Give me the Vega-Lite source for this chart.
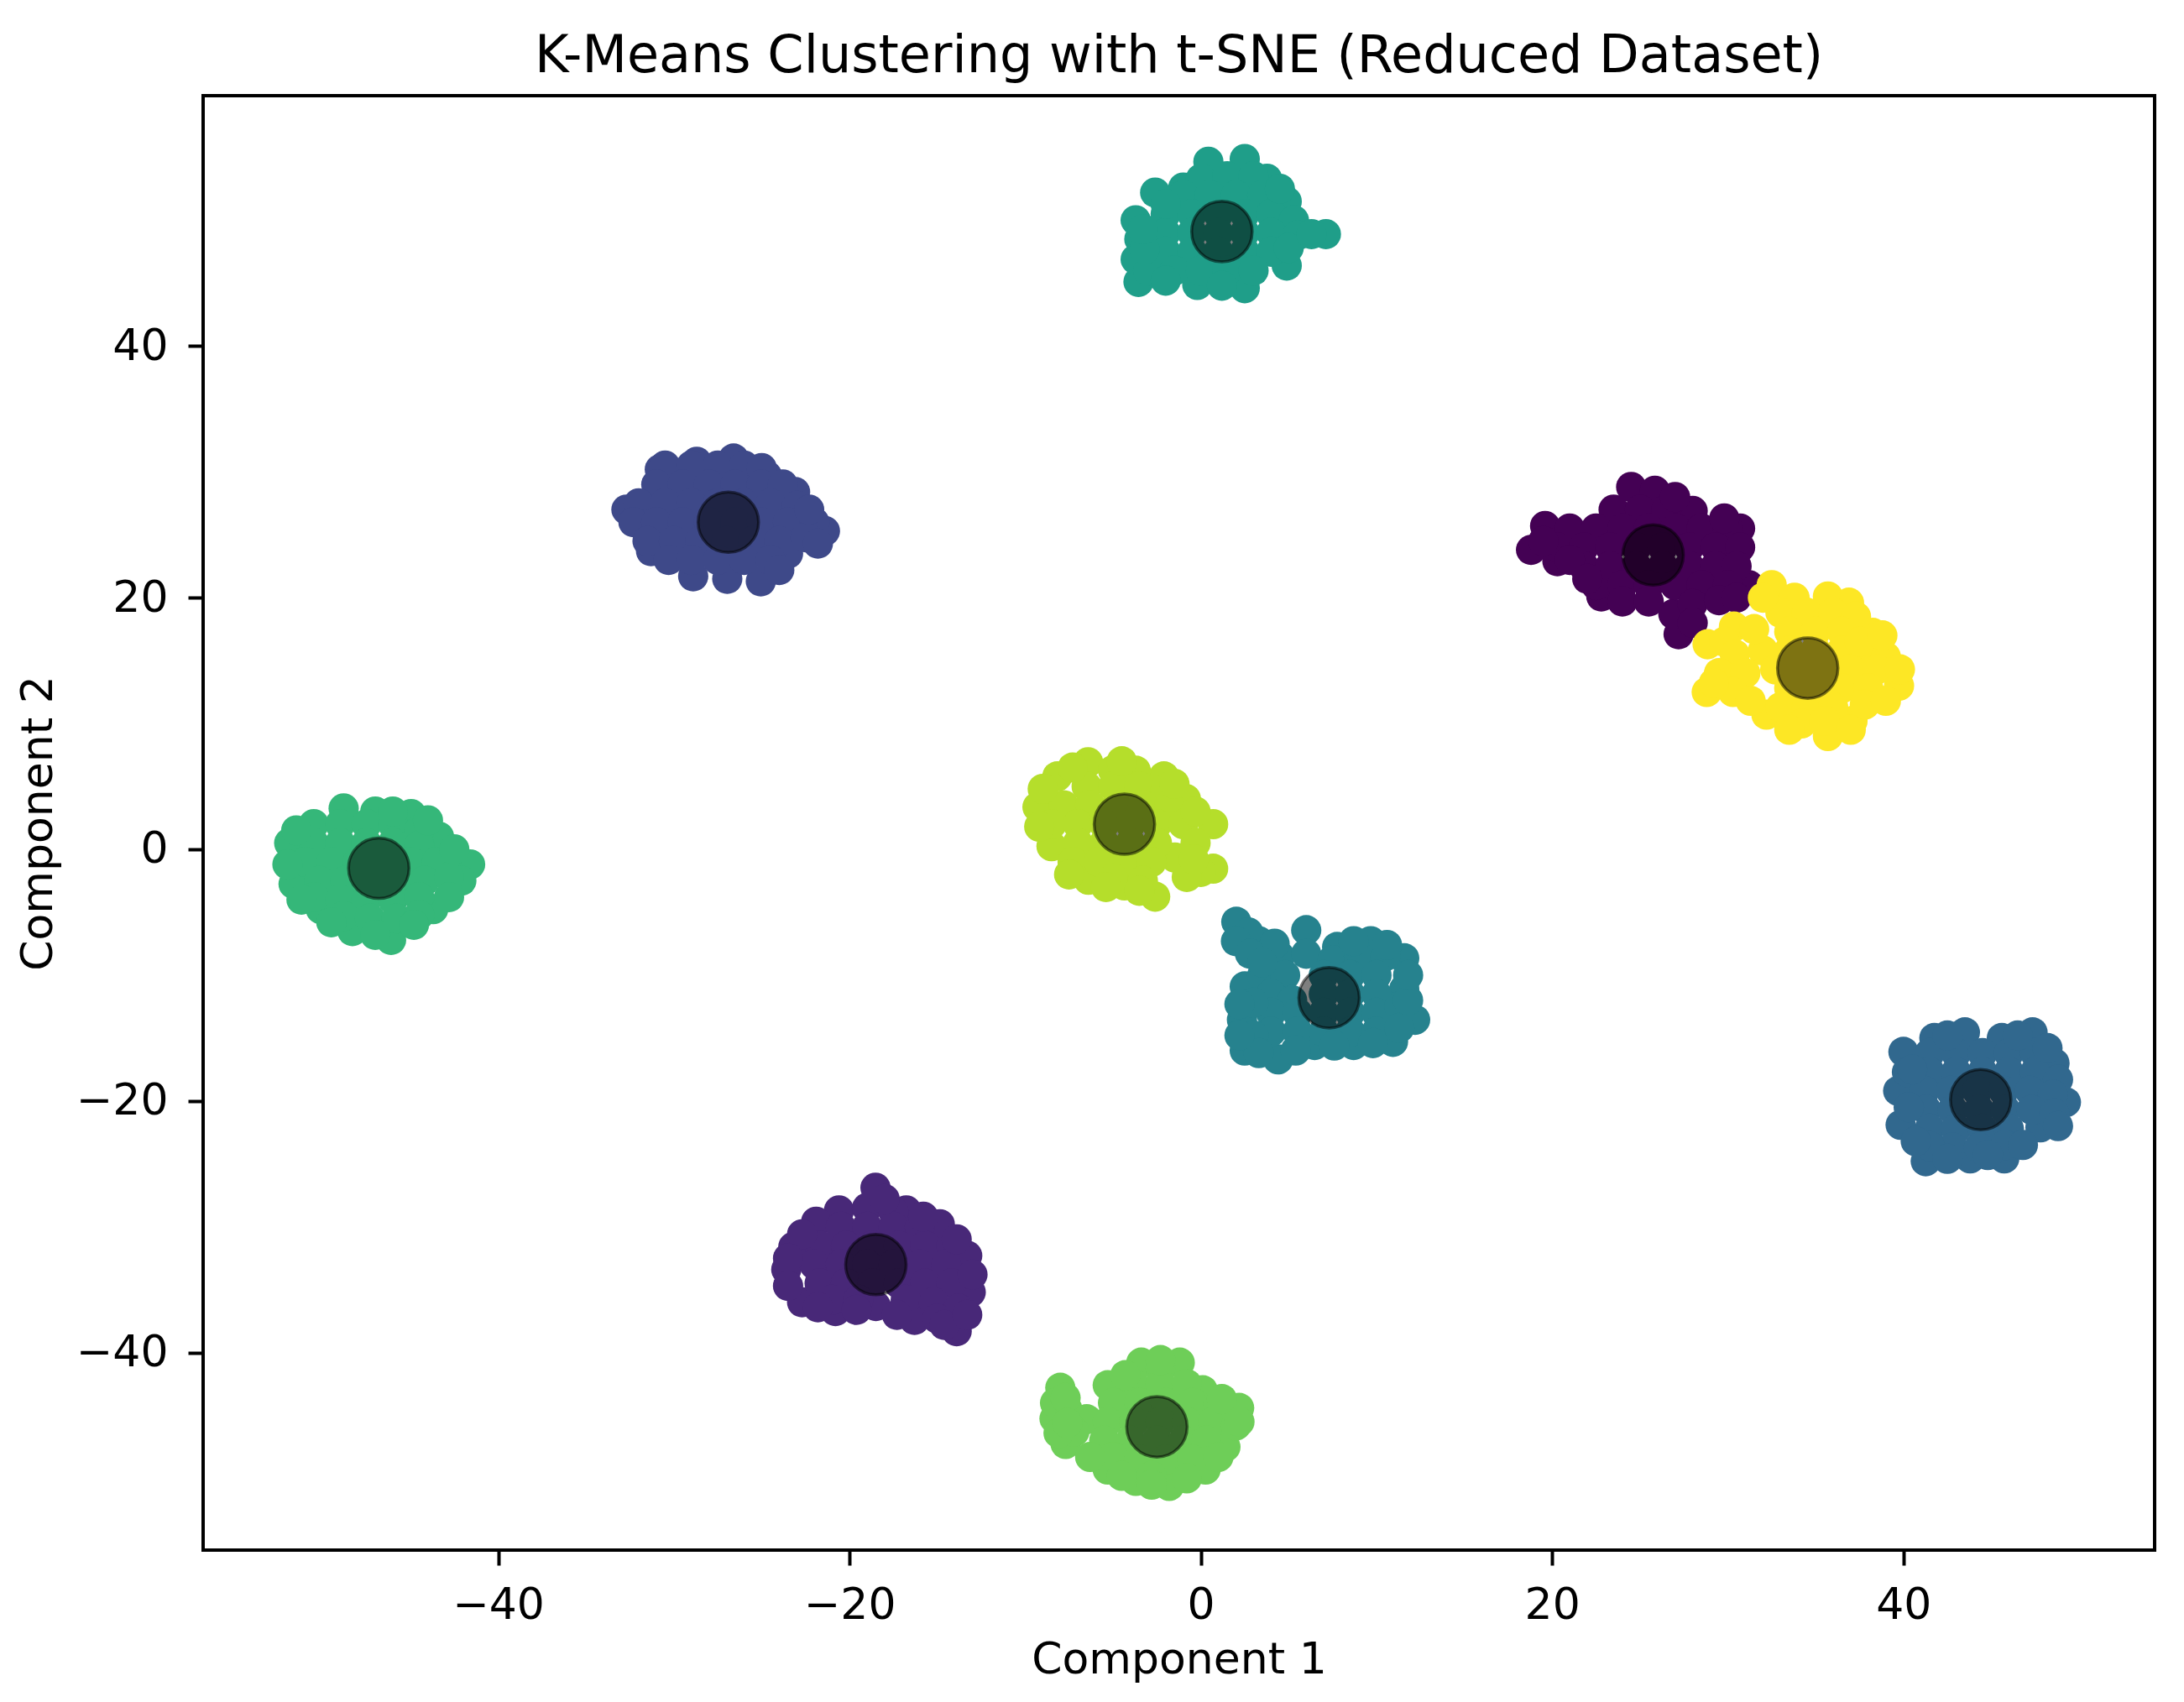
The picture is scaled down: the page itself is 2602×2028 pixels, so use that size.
{
  "$schema": "https://vega.github.io/schema/vega-lite/v6.json",
  "width": 2325,
  "height": 1733,
  "autosize": {"type": "none"},
  "padding": {"left": 242, "top": 114, "right": 35, "bottom": 181},
  "background": "white",
  "title": {"text": "K-Means Clustering with t-SNE (Reduced Dataset)", "fontSize": 62, "font": "DejaVu Sans", "fontWeight": "normal", "color": "black", "anchor": "middle", "offset": 15},
  "config": {
    "view": {"stroke": "black", "strokeWidth": 4},
    "font": "DejaVu Sans",
    "axis": {"grid": false, "domain": false, "tickColor": "black", "tickWidth": 4, "tickSize": 18, "labelColor": "black", "titleColor": "black", "labelFontSize": 52, "titleFontSize": 52, "titleFontWeight": "normal", "labelFont": "DejaVu Sans", "titleFont": "DejaVu Sans"}
  },
  "layer": [
    {
      "data": {"values": [
        {"x": 18.8, "y": 23.8, "c": 0}, {"x": 19.6, "y": 25.7, "c": 0}, {"x": 22.3, "y": 25.0, "c": 0}, {"x": 24.5, "y": 28.8, "c": 0}, {"x": 25.85, "y": 28.5, "c": 0}, {"x": 28.0, "y": 26.9, "c": 0}, {"x": 30.7, "y": 25.5, "c": 0}, {"x": 31.2, "y": 21.0, "c": 0}, {"x": 27.2, "y": 17.1, "c": 0}, {"x": 26.9, "y": 18.7, "c": 0}, {"x": 22.8, "y": 20.1, "c": 0}, {"x": 20.3, "y": 22.9, "c": 0},
        {"x": 23.5, "y": 27, "c": 0}, {"x": 25, "y": 27, "c": 0}, {"x": 26.5, "y": 27, "c": 0},
        {"x": 21, "y": 25.5, "c": 0}, {"x": 22.5, "y": 25.5, "c": 0}, {"x": 24, "y": 25.5, "c": 0}, {"x": 25.5, "y": 25.5, "c": 0}, {"x": 27, "y": 25.5, "c": 0}, {"x": 28.5, "y": 25.5, "c": 0}, {"x": 30, "y": 25.5, "c": 0},
        {"x": 20.3, "y": 24, "c": 0}, {"x": 21.8, "y": 24, "c": 0}, {"x": 23.3, "y": 24, "c": 0}, {"x": 24.8, "y": 24, "c": 0}, {"x": 26.3, "y": 24, "c": 0}, {"x": 27.8, "y": 24, "c": 0}, {"x": 29.3, "y": 24, "c": 0}, {"x": 30.7, "y": 24, "c": 0},
        {"x": 21.8, "y": 22.5, "c": 0}, {"x": 23.3, "y": 22.5, "c": 0}, {"x": 24.8, "y": 22.5, "c": 0}, {"x": 26.3, "y": 22.5, "c": 0}, {"x": 27.8, "y": 22.5, "c": 0}, {"x": 29.3, "y": 22.5, "c": 0}, {"x": 30.5, "y": 22.5, "c": 0},
        {"x": 22.5, "y": 21, "c": 0}, {"x": 24, "y": 21, "c": 0}, {"x": 25.5, "y": 21, "c": 0}, {"x": 27, "y": 21, "c": 0}, {"x": 28.5, "y": 21, "c": 0}, {"x": 30, "y": 21, "c": 0},
        {"x": 24, "y": 19.7, "c": 0}, {"x": 25.5, "y": 19.7, "c": 0}, {"x": 28, "y": 19.5, "c": 0}, {"x": 29.5, "y": 19.8, "c": 0}, {"x": 28, "y": 18, "c": 0},
        {"x": 19.5, "y": 24.5, "c": 0}, {"x": 21, "y": 23, "c": 0}, {"x": 30.5, "y": 20, "c": 0}, {"x": 29.8, "y": 26.3, "c": 0}, {"x": 27, "y": 28, "c": 0}, {"x": 22, "y": 21.5, "c": 0},

        {"x": -18.52, "y": -26.9, "c": 1}, {"x": -20.6, "y": -28.7, "c": 1}, {"x": -21.9, "y": -29.6, "c": 1}, {"x": -23.2, "y": -31.6, "c": 1}, {"x": -23.6, "y": -33.4, "c": 1}, {"x": -22.7, "y": -36.0, "c": 1}, {"x": -20.8, "y": -36.7, "c": 1}, {"x": -18.5, "y": -36.3, "c": 1}, {"x": -16.3, "y": -37.4, "c": 1}, {"x": -13.9, "y": -38.3, "c": 1}, {"x": -13.1, "y": -35.2, "c": 1}, {"x": -13.3, "y": -32.3, "c": 1}, {"x": -14.86, "y": -29.8, "c": 1}, {"x": -16.77, "y": -28.7, "c": 1},
        {"x": -19, "y": -28.5, "c": 1}, {"x": -17.5, "y": -28.8, "c": 1},
        {"x": -20.5, "y": -30, "c": 1}, {"x": -19, "y": -30, "c": 1}, {"x": -17.5, "y": -30, "c": 1}, {"x": -16, "y": -30, "c": 1},
        {"x": -21.7, "y": -31.5, "c": 1}, {"x": -20.2, "y": -31.5, "c": 1}, {"x": -18.7, "y": -31.5, "c": 1}, {"x": -17.2, "y": -31.5, "c": 1}, {"x": -15.7, "y": -31.5, "c": 1}, {"x": -14.2, "y": -31.5, "c": 1},
        {"x": -22, "y": -33, "c": 1}, {"x": -20.5, "y": -33, "c": 1}, {"x": -19, "y": -33, "c": 1}, {"x": -17.5, "y": -33, "c": 1}, {"x": -16, "y": -33, "c": 1}, {"x": -14.5, "y": -33, "c": 1},
        {"x": -21.7, "y": -34.5, "c": 1}, {"x": -20.2, "y": -34.5, "c": 1}, {"x": -18.7, "y": -34.5, "c": 1}, {"x": -17.2, "y": -34.5, "c": 1}, {"x": -15.7, "y": -34.5, "c": 1}, {"x": -14.2, "y": -34.5, "c": 1},
        {"x": -21, "y": -35.8, "c": 1}, {"x": -19.5, "y": -35.8, "c": 1}, {"x": -16.8, "y": -35.8, "c": 1}, {"x": -15.2, "y": -36, "c": 1}, {"x": -13.8, "y": -36.5, "c": 1}, {"x": -15, "y": -37.3, "c": 1},
        {"x": -18, "y": -27.8, "c": 1}, {"x": -22.7, "y": -30.6, "c": 1}, {"x": -23.5, "y": -32.5, "c": 1}, {"x": -23.5, "y": -34.7, "c": 1}, {"x": -21.8, "y": -36.4, "c": 1}, {"x": -19.6, "y": -36.6, "c": 1}, {"x": -17.3, "y": -37, "c": 1}, {"x": -14.6, "y": -37.8, "c": 1}, {"x": -13.3, "y": -37, "c": 1}, {"x": -13, "y": -33.8, "c": 1}, {"x": -13.9, "y": -31, "c": 1}, {"x": -15.8, "y": -29.2, "c": 1},

        {"x": -32.7, "y": 27.0, "c": 2}, {"x": -30.8, "y": 30.2, "c": 2}, {"x": -28.7, "y": 30.8, "c": 2}, {"x": -26.6, "y": 31.06, "c": 2}, {"x": -24.7, "y": 29.7, "c": 2}, {"x": -23.1, "y": 28.4, "c": 2}, {"x": -21.4, "y": 25.3, "c": 2}, {"x": -23.5, "y": 23.5, "c": 2}, {"x": -25.05, "y": 21.3, "c": 2}, {"x": -26.96, "y": 21.5, "c": 2}, {"x": -28.9, "y": 21.7, "c": 2}, {"x": -31.3, "y": 23.7, "c": 2},
        {"x": -30.5, "y": 30.5, "c": 2}, {"x": -29, "y": 30.5, "c": 2}, {"x": -27.5, "y": 30.5, "c": 2}, {"x": -26, "y": 30.5, "c": 2}, {"x": -25, "y": 30.3, "c": 2},
        {"x": -31, "y": 29, "c": 2}, {"x": -29.5, "y": 29, "c": 2}, {"x": -28, "y": 29, "c": 2}, {"x": -26.5, "y": 29, "c": 2}, {"x": -25, "y": 29, "c": 2}, {"x": -23.8, "y": 29, "c": 2},
        {"x": -32, "y": 27.5, "c": 2}, {"x": -30.5, "y": 27.5, "c": 2}, {"x": -29, "y": 27.5, "c": 2}, {"x": -27.5, "y": 27.5, "c": 2}, {"x": -26, "y": 27.5, "c": 2}, {"x": -24.5, "y": 27.5, "c": 2}, {"x": -23, "y": 27.3, "c": 2},
        {"x": -32.3, "y": 26, "c": 2}, {"x": -31, "y": 26, "c": 2}, {"x": -29.5, "y": 26, "c": 2}, {"x": -28, "y": 26, "c": 2}, {"x": -26.5, "y": 26, "c": 2}, {"x": -25, "y": 26, "c": 2}, {"x": -23.5, "y": 26, "c": 2}, {"x": -22, "y": 26, "c": 2},
        {"x": -31.5, "y": 24.5, "c": 2}, {"x": -30, "y": 24.5, "c": 2}, {"x": -28.5, "y": 24.5, "c": 2}, {"x": -27, "y": 24.5, "c": 2}, {"x": -25.5, "y": 24.5, "c": 2}, {"x": -24, "y": 24.5, "c": 2}, {"x": -22.5, "y": 24.8, "c": 2},
        {"x": -30.3, "y": 23, "c": 2}, {"x": -29, "y": 23, "c": 2}, {"x": -27.5, "y": 23, "c": 2}, {"x": -26, "y": 23, "c": 2}, {"x": -24.5, "y": 23, "c": 2},
        {"x": -22.3, "y": 27, "c": 2}, {"x": -24, "y": 22.2, "c": 2}, {"x": -21.8, "y": 24.3, "c": 2},

        {"x": 40.0, "y": -16.1, "c": 3}, {"x": 41.76, "y": -15.0, "c": 3}, {"x": 43.5, "y": -14.55, "c": 3}, {"x": 45.6, "y": -15.0, "c": 3}, {"x": 47.35, "y": -14.55, "c": 3}, {"x": 48.6, "y": -17.0, "c": 3}, {"x": 49.25, "y": -20.1, "c": 3}, {"x": 47.8, "y": -22.1, "c": 3}, {"x": 45.74, "y": -24.57, "c": 3}, {"x": 43.8, "y": -24.57, "c": 3}, {"x": 41.27, "y": -24.79, "c": 3}, {"x": 39.84, "y": -21.9, "c": 3}, {"x": 39.7, "y": -19.2, "c": 3},
        {"x": 41.5, "y": -16.2, "c": 3}, {"x": 43, "y": -16.2, "c": 3}, {"x": 44.5, "y": -16.2, "c": 3}, {"x": 46, "y": -16.2, "c": 3}, {"x": 47.5, "y": -16.2, "c": 3},
        {"x": 40.2, "y": -17.7, "c": 3}, {"x": 41.5, "y": -17.7, "c": 3}, {"x": 43, "y": -17.7, "c": 3}, {"x": 44.5, "y": -17.7, "c": 3}, {"x": 46, "y": -17.7, "c": 3}, {"x": 47.5, "y": -17.7, "c": 3}, {"x": 48.8, "y": -18.3, "c": 3},
        {"x": 41.2, "y": -19.2, "c": 3}, {"x": 42.7, "y": -19.2, "c": 3}, {"x": 44.2, "y": -19.2, "c": 3}, {"x": 45.7, "y": -19.2, "c": 3}, {"x": 47.2, "y": -19.2, "c": 3}, {"x": 48.5, "y": -19.5, "c": 3},
        {"x": 41.3, "y": -20.7, "c": 3}, {"x": 42.8, "y": -20.7, "c": 3}, {"x": 44.3, "y": -20.7, "c": 3}, {"x": 45.8, "y": -20.7, "c": 3}, {"x": 47.3, "y": -20.7, "c": 3}, {"x": 48.6, "y": -21, "c": 3},
        {"x": 41.5, "y": -22.2, "c": 3}, {"x": 43, "y": -22.2, "c": 3}, {"x": 44.5, "y": -22.2, "c": 3}, {"x": 46, "y": -22.2, "c": 3},
        {"x": 42.8, "y": -23.7, "c": 3}, {"x": 44.3, "y": -23.7, "c": 3}, {"x": 45.8, "y": -23.5, "c": 3}, {"x": 41.5, "y": -23.6, "c": 3},
        {"x": 40.3, "y": -20.5, "c": 3}, {"x": 40.5, "y": -17.5, "c": 3}, {"x": 42.5, "y": -14.8, "c": 3}, {"x": 46.5, "y": -14.8, "c": 3}, {"x": 48.2, "y": -15.8, "c": 3}, {"x": 48.8, "y": -22, "c": 3}, {"x": 46.8, "y": -23.5, "c": 3}, {"x": 42.5, "y": -24.6, "c": 3}, {"x": 44.8, "y": -24.3, "c": 3}, {"x": 40.7, "y": -23.2, "c": 3},

        {"x": 2.02, "y": -5.76, "c": 4}, {"x": 3.3, "y": -7.3, "c": 4}, {"x": 6.0, "y": -6.43, "c": 4}, {"x": 7.76, "y": -7.76, "c": 4}, {"x": 9.67, "y": -7.3, "c": 4}, {"x": 11.58, "y": -8.66, "c": 4}, {"x": 11.58, "y": -11.1, "c": 4}, {"x": 12.2, "y": -13.55, "c": 4}, {"x": 10.94, "y": -15.3, "c": 4}, {"x": 8.7, "y": -15.55, "c": 4}, {"x": 6.48, "y": -15.55, "c": 4}, {"x": 4.4, "y": -16.7, "c": 4}, {"x": 2.5, "y": -16.0, "c": 4}, {"x": 2.34, "y": -13.55, "c": 4}, {"x": 2.5, "y": -10.9, "c": 4},
        {"x": 4.5, "y": -8.5, "c": 4}, {"x": 6, "y": -8.3, "c": 4}, {"x": 7.5, "y": -8.8, "c": 4}, {"x": 9, "y": -8.5, "c": 4}, {"x": 10.5, "y": -8.5, "c": 4},
        {"x": 3.5, "y": -10, "c": 4}, {"x": 4.8, "y": -10, "c": 4}, {"x": 7, "y": -10, "c": 4}, {"x": 8.5, "y": -10, "c": 4}, {"x": 10, "y": -10, "c": 4},
        {"x": 4, "y": -11.5, "c": 4}, {"x": 5.2, "y": -12, "c": 4}, {"x": 7, "y": -11.5, "c": 4}, {"x": 8.5, "y": -11.5, "c": 4}, {"x": 10, "y": -11.5, "c": 4},
        {"x": 4, "y": -13, "c": 4}, {"x": 5.5, "y": -13, "c": 4}, {"x": 7, "y": -13, "c": 4}, {"x": 8.5, "y": -13, "c": 4}, {"x": 10, "y": -13, "c": 4}, {"x": 11.3, "y": -12.5, "c": 4},
        {"x": 4, "y": -14.5, "c": 4}, {"x": 5.5, "y": -14.5, "c": 4}, {"x": 7, "y": -14.5, "c": 4}, {"x": 8.5, "y": -14.5, "c": 4}, {"x": 10, "y": -14.5, "c": 4}, {"x": 11.3, "y": -14.2, "c": 4},
        {"x": 2.7, "y": -6.6, "c": 4}, {"x": 4.2, "y": -7.5, "c": 4}, {"x": 3, "y": -12.2, "c": 4}, {"x": 3, "y": -14.8, "c": 4}, {"x": 3.3, "y": -16.2, "c": 4}, {"x": 5.4, "y": -16, "c": 4}, {"x": 7.6, "y": -15.6, "c": 4}, {"x": 9.8, "y": -15.4, "c": 4}, {"x": 11.8, "y": -12, "c": 4}, {"x": 11.8, "y": -10, "c": 4}, {"x": 10.6, "y": -7.6, "c": 4}, {"x": 8.7, "y": -7.3, "c": 4},
        {"x": 2, "y": -7.3, "c": 4}, {"x": 2.8, "y": -8.3, "c": 4}, {"x": 3.5, "y": -9, "c": 4}, {"x": 2.2, "y": -12.3, "c": 4}, {"x": 2.2, "y": -14.8, "c": 4},

        {"x": 0.43, "y": 54.65, "c": 5}, {"x": 2.5, "y": 54.87, "c": 5}, {"x": 3.77, "y": 53.3, "c": 5}, {"x": 4.89, "y": 51.5, "c": 5}, {"x": 7.12, "y": 48.9, "c": 5}, {"x": 4.89, "y": 46.4, "c": 5}, {"x": 2.5, "y": 44.6, "c": 5}, {"x": -0.2, "y": 44.86, "c": 5}, {"x": -3.55, "y": 45.1, "c": 5}, {"x": -3.71, "y": 46.9, "c": 5}, {"x": -3.71, "y": 50.0, "c": 5}, {"x": -2.6, "y": 52.2, "c": 5}, {"x": -1.0, "y": 52.6, "c": 5},
        {"x": 0, "y": 53.3, "c": 5}, {"x": 1.5, "y": 53.5, "c": 5}, {"x": 3, "y": 53.5, "c": 5},
        {"x": -1, "y": 52, "c": 5}, {"x": 0.5, "y": 52, "c": 5}, {"x": 2, "y": 52, "c": 5}, {"x": 3.5, "y": 52, "c": 5},
        {"x": -2, "y": 50.5, "c": 5}, {"x": -0.5, "y": 50.5, "c": 5}, {"x": 1, "y": 50.5, "c": 5}, {"x": 2.5, "y": 50.5, "c": 5}, {"x": 4, "y": 50.5, "c": 5}, {"x": 5.3, "y": 50, "c": 5},
        {"x": -3.5, "y": 48.5, "c": 5}, {"x": -2, "y": 49, "c": 5}, {"x": -0.5, "y": 49, "c": 5}, {"x": 1, "y": 49, "c": 5}, {"x": 2.5, "y": 49, "c": 5}, {"x": 4, "y": 49, "c": 5}, {"x": 5.5, "y": 48.8, "c": 5},
        {"x": -2, "y": 47.5, "c": 5}, {"x": -0.5, "y": 47.5, "c": 5}, {"x": 1, "y": 47.5, "c": 5}, {"x": 2.5, "y": 47.5, "c": 5}, {"x": 4, "y": 47.5, "c": 5},
        {"x": -3, "y": 46, "c": 5}, {"x": -1.5, "y": 46, "c": 5}, {"x": 0, "y": 46, "c": 5}, {"x": 1.5, "y": 46, "c": 5}, {"x": 3, "y": 46, "c": 5},
        {"x": -3.2, "y": 47.7, "c": 5}, {"x": -3.3, "y": 49.3, "c": 5}, {"x": 5, "y": 47.8, "c": 5}, {"x": 6.3, "y": 48.9, "c": 5}, {"x": 4.5, "y": 52.5, "c": 5}, {"x": -2, "y": 51.3, "c": 5}, {"x": 1.2, "y": 44.8, "c": 5}, {"x": -2, "y": 45.2, "c": 5},

        {"x": -51.9, "y": 0.5, "c": 6}, {"x": -50.5, "y": 2.0, "c": 6}, {"x": -51.65, "y": -2.76, "c": 6}, {"x": -48.8, "y": 3.25, "c": 6}, {"x": -47.0, "y": 3.0, "c": 6}, {"x": -44.96, "y": 2.8, "c": 6}, {"x": -43.37, "y": 1.0, "c": 6}, {"x": -41.6, "y": -1.2, "c": 6}, {"x": -42.1, "y": -2.5, "c": 6}, {"x": -43.7, "y": -4.76, "c": 6}, {"x": -46.1, "y": -7.2, "c": 6}, {"x": -48.3, "y": -6.5, "c": 6}, {"x": -50.1, "y": -4.76, "c": 6},
        {"x": -49, "y": 2, "c": 6}, {"x": -47.5, "y": 2, "c": 6}, {"x": -46, "y": 2, "c": 6}, {"x": -44.5, "y": 1.5, "c": 6},
        {"x": -50.5, "y": 0.5, "c": 6}, {"x": -49, "y": 0.5, "c": 6}, {"x": -47.5, "y": 0.5, "c": 6}, {"x": -46, "y": 0.5, "c": 6}, {"x": -44.5, "y": 0.3, "c": 6},
        {"x": -51, "y": -1, "c": 6}, {"x": -49.5, "y": -1, "c": 6}, {"x": -48, "y": -1, "c": 6}, {"x": -46.5, "y": -1, "c": 6}, {"x": -45, "y": -1, "c": 6}, {"x": -43.5, "y": -1, "c": 6},
        {"x": -50.2, "y": -2.5, "c": 6}, {"x": -48.7, "y": -2.5, "c": 6}, {"x": -47.2, "y": -2.5, "c": 6}, {"x": -45.7, "y": -2.5, "c": 6}, {"x": -44.2, "y": -2.5, "c": 6}, {"x": -42.8, "y": -2.2, "c": 6},
        {"x": -50.5, "y": -3.8, "c": 6}, {"x": -49, "y": -4, "c": 6}, {"x": -47.5, "y": -4, "c": 6}, {"x": -46, "y": -4, "c": 6}, {"x": -44.5, "y": -3.8, "c": 6},
        {"x": -48.8, "y": -5.3, "c": 6}, {"x": -47.3, "y": -5.5, "c": 6}, {"x": -45.8, "y": -5.5, "c": 6}, {"x": -44.5, "y": -5.2, "c": 6},
        {"x": -52, "y": -1.2, "c": 6}, {"x": -51.2, "y": -4, "c": 6}, {"x": -49.5, "y": -5.8, "c": 6}, {"x": -47, "y": -6.8, "c": 6}, {"x": -44.8, "y": -6, "c": 6}, {"x": -42.8, "y": -3.8, "c": 6}, {"x": -42.5, "y": 0, "c": 6}, {"x": -44, "y": 2.3, "c": 6}, {"x": -46, "y": 3, "c": 6}, {"x": -51.5, "y": 1.5, "c": 6},

        {"x": -8.0, "y": -42.8, "c": 7}, {"x": -8.33, "y": -45.25, "c": 7}, {"x": -7.7, "y": -47.26, "c": 7}, {"x": -5.3, "y": -42.6, "c": 7}, {"x": -3.39, "y": -40.8, "c": 7}, {"x": -1.2, "y": -40.8, "c": 7}, {"x": 0.11, "y": -43.0, "c": 7}, {"x": 2.18, "y": -44.4, "c": 7}, {"x": 1.4, "y": -47.5, "c": 7}, {"x": 0.27, "y": -49.3, "c": 7}, {"x": -1.8, "y": -50.6, "c": 7}, {"x": -3.7, "y": -50.2, "c": 7}, {"x": -5.3, "y": -49.3, "c": 7},
        {"x": -2.3, "y": -41.2, "c": 7},
        {"x": -3.8, "y": -42.5, "c": 7}, {"x": -2.3, "y": -42.5, "c": 7}, {"x": -0.8, "y": -42.5, "c": 7},
        {"x": -5, "y": -44, "c": 7}, {"x": -3.5, "y": -44, "c": 7}, {"x": -2, "y": -44, "c": 7}, {"x": -0.5, "y": -44, "c": 7}, {"x": 1, "y": -44, "c": 7},
        {"x": -7.6, "y": -44.5, "c": 7}, {"x": -6.5, "y": -45.3, "c": 7}, {"x": -5.3, "y": -45.5, "c": 7}, {"x": -3.8, "y": -45.5, "c": 7}, {"x": -2.3, "y": -45.5, "c": 7}, {"x": -0.8, "y": -45.5, "c": 7}, {"x": 0.7, "y": -45.5, "c": 7}, {"x": 2, "y": -45.8, "c": 7},
        {"x": -7.2, "y": -46.3, "c": 7}, {"x": -5.5, "y": -47, "c": 7}, {"x": -4, "y": -47, "c": 7}, {"x": -2.5, "y": -47, "c": 7}, {"x": -1, "y": -47, "c": 7}, {"x": 0.3, "y": -47, "c": 7},
        {"x": -5, "y": -48.3, "c": 7}, {"x": -3.5, "y": -48.5, "c": 7}, {"x": -2, "y": -48.5, "c": 7}, {"x": -0.5, "y": -48.5, "c": 7},
        {"x": -2.8, "y": -49.8, "c": 7},
        {"x": -8.3, "y": -44, "c": 7}, {"x": -8.1, "y": -46.4, "c": 7}, {"x": -4.3, "y": -41.8, "c": 7}, {"x": -2.3, "y": -40.6, "c": 7}, {"x": 1.2, "y": -43.7, "c": 7}, {"x": 2.2, "y": -45.5, "c": 7}, {"x": 1, "y": -48.3, "c": 7}, {"x": -0.8, "y": -50, "c": 7}, {"x": -2.8, "y": -50.5, "c": 7}, {"x": -4.5, "y": -49.8, "c": 7}, {"x": -6.3, "y": -48.3, "c": 7},
        {"x": -7.7, "y": -43.6, "c": 7}, {"x": -7.6, "y": -45.6, "c": 7},

        {"x": -6.42, "y": 6.92, "c": 8}, {"x": -8.17, "y": 5.8, "c": 8}, {"x": -9.3, "y": 3.36, "c": 8}, {"x": -8.5, "y": 0.25, "c": 8}, {"x": -6.4, "y": -2.42, "c": 8}, {"x": -4.35, "y": -2.87, "c": 8}, {"x": -2.6, "y": -3.76, "c": 8}, {"x": 0.7, "y": 2.0, "c": 8}, {"x": 0.7, "y": -1.54, "c": 8}, {"x": -2.1, "y": 5.8, "c": 8}, {"x": -3.7, "y": 6.25, "c": 8}, {"x": -0.85, "y": 4.0, "c": 8}, {"x": -1.48, "y": -0.65, "c": 8},
        {"x": -5, "y": 6.3, "c": 8},
        {"x": -6.5, "y": 5, "c": 8}, {"x": -5, "y": 5, "c": 8}, {"x": -3.5, "y": 5, "c": 8}, {"x": -2, "y": 4.8, "c": 8},
        {"x": -7.8, "y": 3.5, "c": 8}, {"x": -6.3, "y": 3.5, "c": 8}, {"x": -4.8, "y": 3.5, "c": 8}, {"x": -3.3, "y": 3.5, "c": 8}, {"x": -1.8, "y": 3.5, "c": 8},
        {"x": -8.5, "y": 2, "c": 8}, {"x": -7, "y": 2, "c": 8}, {"x": -5.5, "y": 2, "c": 8}, {"x": -4, "y": 2, "c": 8}, {"x": -2.5, "y": 2, "c": 8}, {"x": -1, "y": 2, "c": 8},
        {"x": -7, "y": 0.5, "c": 8}, {"x": -5.5, "y": 0.5, "c": 8}, {"x": -4, "y": 0.5, "c": 8}, {"x": -2.5, "y": 0.5, "c": 8},
        {"x": -7.3, "y": -1, "c": 8}, {"x": -5.8, "y": -1, "c": 8}, {"x": -4.3, "y": -1, "c": 8}, {"x": -2.8, "y": -1, "c": 8},
        {"x": -5, "y": -2.3, "c": 8}, {"x": -3.3, "y": -2.5, "c": 8},
        {"x": -9, "y": 4.8, "c": 8}, {"x": -9.2, "y": 1.8, "c": 8}, {"x": -7.5, "y": -2, "c": 8}, {"x": -5.4, "y": -3, "c": 8}, {"x": -3.5, "y": -3.3, "c": 8}, {"x": -1.5, "y": 5.2, "c": 8}, {"x": -0.3, "y": 3, "c": 8}, {"x": -0.3, "y": 0.5, "c": 8}, {"x": -7.3, "y": 6.5, "c": 8}, {"x": -4.5, "y": 7, "c": 8},
        {"x": 0, "y": -1.8, "c": 8}, {"x": -0.8, "y": -2.2, "c": 8}, {"x": -0.4, "y": -0.8, "c": 8},

        {"x": 32.5, "y": 21.0, "c": 9}, {"x": 35.7, "y": 20.1, "c": 9}, {"x": 36.9, "y": 19.6, "c": 9}, {"x": 38.25, "y": 17.2, "c": 9}, {"x": 39.75, "y": 13.0, "c": 9}, {"x": 37.1, "y": 10.2, "c": 9}, {"x": 35.7, "y": 9.0, "c": 9}, {"x": 32.2, "y": 10.7, "c": 9}, {"x": 28.8, "y": 12.5, "c": 9}, {"x": 28.85, "y": 16.3, "c": 9}, {"x": 30.35, "y": 17.7, "c": 9},
        {"x": 33.8, "y": 20, "c": 9},
        {"x": 33, "y": 18.8, "c": 9}, {"x": 34.5, "y": 18.8, "c": 9}, {"x": 36, "y": 18.8, "c": 9}, {"x": 37.3, "y": 18.5, "c": 9},
        {"x": 29.8, "y": 16.5, "c": 9}, {"x": 33.5, "y": 17.3, "c": 9}, {"x": 35, "y": 17.3, "c": 9}, {"x": 36.5, "y": 17.3, "c": 9},
        {"x": 30.4, "y": 15.5, "c": 9}, {"x": 32, "y": 15.8, "c": 9}, {"x": 33.5, "y": 15.8, "c": 9}, {"x": 35, "y": 15.8, "c": 9}, {"x": 36.5, "y": 15.8, "c": 9}, {"x": 38, "y": 15.8, "c": 9}, {"x": 39, "y": 15.3, "c": 9},
        {"x": 29.5, "y": 14, "c": 9}, {"x": 31, "y": 14, "c": 9}, {"x": 32.7, "y": 14.3, "c": 9}, {"x": 34, "y": 14.3, "c": 9}, {"x": 35.5, "y": 14.3, "c": 9}, {"x": 37, "y": 14.3, "c": 9}, {"x": 38.5, "y": 14.3, "c": 9}, {"x": 39.8, "y": 14.3, "c": 9},
        {"x": 30.3, "y": 12.5, "c": 9}, {"x": 31.3, "y": 11.8, "c": 9}, {"x": 33.5, "y": 12.8, "c": 9}, {"x": 35, "y": 12.8, "c": 9}, {"x": 36.5, "y": 12.8, "c": 9}, {"x": 38, "y": 12.8, "c": 9},
        {"x": 33, "y": 11.3, "c": 9}, {"x": 34.5, "y": 11.3, "c": 9}, {"x": 36, "y": 11.3, "c": 9}, {"x": 37.8, "y": 11.5, "c": 9},
        {"x": 34.2, "y": 10, "c": 9}, {"x": 35.5, "y": 10.2, "c": 9},
        {"x": 29.2, "y": 13.2, "c": 9}, {"x": 31.5, "y": 17.5, "c": 9}, {"x": 32, "y": 20, "c": 9}, {"x": 37.5, "y": 16.5, "c": 9}, {"x": 38.8, "y": 17, "c": 9}, {"x": 39, "y": 11.8, "c": 9}, {"x": 37, "y": 9.5, "c": 9}, {"x": 33.5, "y": 9.5, "c": 9}
      ]},
      "mark": {"type": "point", "shape": "circle", "filled": true, "opacity": 1, "size": 1300, "strokeWidth": 0},
      "encoding": {
        "x": {"field": "x", "type": "quantitative", "scale": {"domain": [-56.8, 54.3], "nice": false, "zero": false},
              "axis": {"title": "Component 1", "values": [-40, -20, 0, 20, 40], "labelExpr": "replace(datum.label, '-', '−')", "labelPadding": 22, "titlePadding": 14}},
        "y": {"field": "y", "type": "quantitative", "scale": {"domain": [-55.7, 59.9], "nice": false, "zero": false},
              "axis": {"title": "Component 2", "values": [-40, -20, 0, 20, 40], "labelExpr": "replace(datum.label, '-', '−')", "labelPadding": 24, "titlePadding": 18}},
        "color": {"field": "c", "type": "nominal", "legend": null,
                  "scale": {"domain": [0, 1, 2, 3, 4, 5, 6, 7, 8, 9], "range": ["#440154", "#482878", "#3e4989", "#31688e", "#26828e", "#1f9e89", "#35b779", "#6ece58", "#b5de2b", "#fde725"]}}
      }
    },
    {
      "data": {"values": [
        {"x": 25.75, "y": 23.4}, {"x": -18.5, "y": -33.0}, {"x": -26.9, "y": 26.0}, {"x": 44.4, "y": -19.9}, {"x": 7.3, "y": -11.8},
        {"x": 1.2, "y": 49.1}, {"x": -46.8, "y": -1.5}, {"x": -2.5, "y": -45.9}, {"x": -4.35, "y": 2.0}, {"x": 34.55, "y": 14.4}
      ]},
      "mark": {"type": "point", "shape": "circle", "filled": true, "fill": "black", "fillOpacity": 0.5, "stroke": "black", "strokeOpacity": 0.5, "strokeWidth": 3.5, "size": 5200},
      "encoding": {
        "x": {"field": "x", "type": "quantitative"},
        "y": {"field": "y", "type": "quantitative"}
      }
    }
  ]
}
